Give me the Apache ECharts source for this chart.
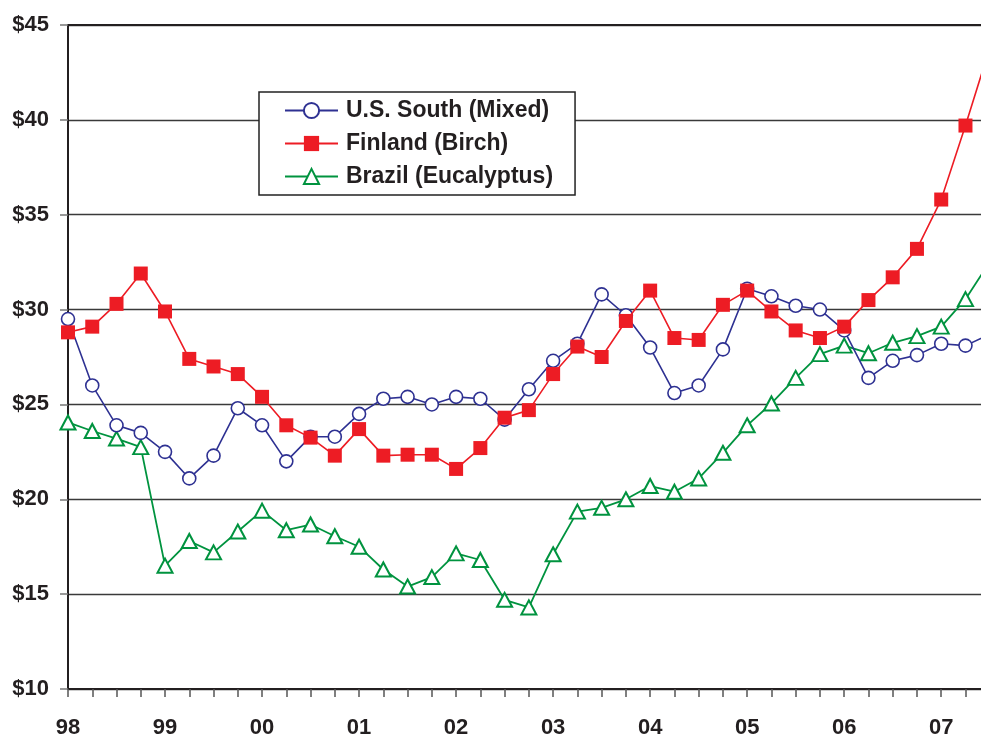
<!DOCTYPE html>
<html>
<head>
<meta charset="utf-8">
<script src="https://cdn.jsdelivr.net/npm/echarts@6/dist/echarts.min.js"></script>
<style>
html,body{margin:0;padding:0;background:#fff;}
#chart{width:981px;height:736px;}
</style>
</head>
<body>
<div id="chart"></div>
<script>
// Quarterly prices, index 0 = 1998 Q1
var yearLabels = ['98','99','00','01','02','03','04','05','06','07'];
var seriesNames = ['U.S. South (Mixed)', 'Finland (Birch)', 'Brazil (Eucalyptus)'];
var usSouth = [29.5, 26.0, 23.9, 23.5, 22.5, 21.1, 22.3, 24.8, 23.9, 22.0,
  23.3, 23.3, 24.5, 25.3, 25.4, 25.0, 25.4, 25.3, 24.2, 25.8,
  27.3, 28.2, 30.8, 29.7, 28.0, 25.6, 26.0, 27.9, 31.1, 30.7,
  30.2, 30.0, 28.9, 26.4, 27.3, 27.6, 28.2, 28.1, 28.7];
var finland = [28.8, 29.1, 30.3, 31.9, 29.9, 27.4, 27.0, 26.6, 25.4, 23.9,
  23.25, 22.3, 23.7, 22.3, 22.35, 22.35, 21.6, 22.7, 24.3, 24.7,
  26.6, 28.05, 27.5, 29.4, 31.0, 28.5, 28.4, 30.25, 31.0, 29.9,
  28.9, 28.5, 29.1, 30.5, 31.7, 33.2, 35.8, 39.7, 43.8];
var brazil = [24.05, 23.6, 23.2, 22.75, 16.5, 17.8, 17.2, 18.3, 19.4, 18.37,
  18.67, 18.05, 17.5, 16.3, 15.4, 15.9, 17.15, 16.8, 14.7, 14.3,
  17.1, 19.35, 19.55, 20.0, 20.7, 20.4, 21.1, 22.45, 23.9, 25.05,
  26.4, 27.65, 28.1, 27.7, 28.25, 28.6, 29.1, 30.55, 32.5];

function toPairs(arr){ return arr.map(function(v,i){ return [i, v]; }); }

var chart = echarts.init(document.getElementById('chart'));
var font = 'Liberation Sans, Arial, sans-serif';
chart.setOption({
  animation: false,
  backgroundColor: '#ffffff',
  grid: { left: 68, top: 25, right: 0, bottom: 47, containLabel: false, outerBoundsMode: 'none' },
  legend: {
    orient: 'vertical',
    left: 259, top: 92,
    padding: [7, 22, 7, 25],
    itemGap: 10,
    itemWidth: 53,
    itemHeight: 19,
    borderColor: '#222', borderWidth: 1.5,
    backgroundColor: '#fff',
    textStyle: { fontFamily: font, fontWeight: 'bold', fontSize: 23, color: '#231f20', padding: [0,0,0,3] },
    data: seriesNames
  },
  xAxis: [{
    type: 'value', min: 0, max: 37.64, interval: 1,
    axisLine: { lineStyle: { color: '#231f20', width: 2 } },
    axisTick: { show: true, length: 8, inside: false, lineStyle: { color: '#555', width: 1.5 } },
    splitLine: { show: false },
    axisLabel: {
      margin: 28, fontFamily: font, fontWeight: 'bold', fontSize: 22, color: '#231f20',
      showMaxLabel: false,
      formatter: function(v){ return (v % 4 === 0) ? yearLabels[v/4] : ''; }
    }
  }, {
    type: 'value', position: 'top', min: 0, max: 37.64,
    axisLine: { show: true, onZero: false, lineStyle: { color: '#231f20', width: 2 } },
    axisTick: { show: false }, axisLabel: { show: false }, splitLine: { show: false }
  }],
  yAxis: {
    type: 'value', min: 10, max: 45, interval: 5,
    axisLine: { show: true, lineStyle: { color: '#231f20', width: 2 } },
    axisTick: { show: true, length: 8, lineStyle: { color: '#777', width: 1.5 } },
    splitLine: { show: true, lineStyle: { color: '#3a3a3a', width: 1.3 } },
    axisLabel: {
      margin: 19, fontFamily: font, fontWeight: 'bold', fontSize: 22, color: '#231f20',
      formatter: function(v){ return '$' + v; }
    }
  },
  series: [{
    name: seriesNames[0], type: 'line', data: toPairs(usSouth),
    symbol: 'circle', symbolSize: 13, showAllSymbol: true, clip: true,
    lineStyle: { color: '#2e3192', width: 1.6 },
    itemStyle: { color: '#ffffff', borderColor: '#2e3192', borderWidth: 1.6 },
    z: 3
  }, {
    name: seriesNames[1], type: 'line', data: toPairs(finland),
    symbol: 'rect', symbolSize: 14, showAllSymbol: true, clip: true,
    lineStyle: { color: '#ed1c24', width: 1.6 },
    itemStyle: { color: '#ed1c24', borderColor: '#ed1c24', borderWidth: 0 },
    z: 4
  }, {
    name: seriesNames[2], type: 'line', data: toPairs(brazil),
    symbol: 'triangle', symbolSize: [15, 14], showAllSymbol: true, clip: true,
    lineStyle: { color: '#00933f', width: 1.8 },
    itemStyle: { color: '#ffffff', borderColor: '#00933f', borderWidth: 2 },
    z: 2
  }]
});
</script>
</body>
</html>
